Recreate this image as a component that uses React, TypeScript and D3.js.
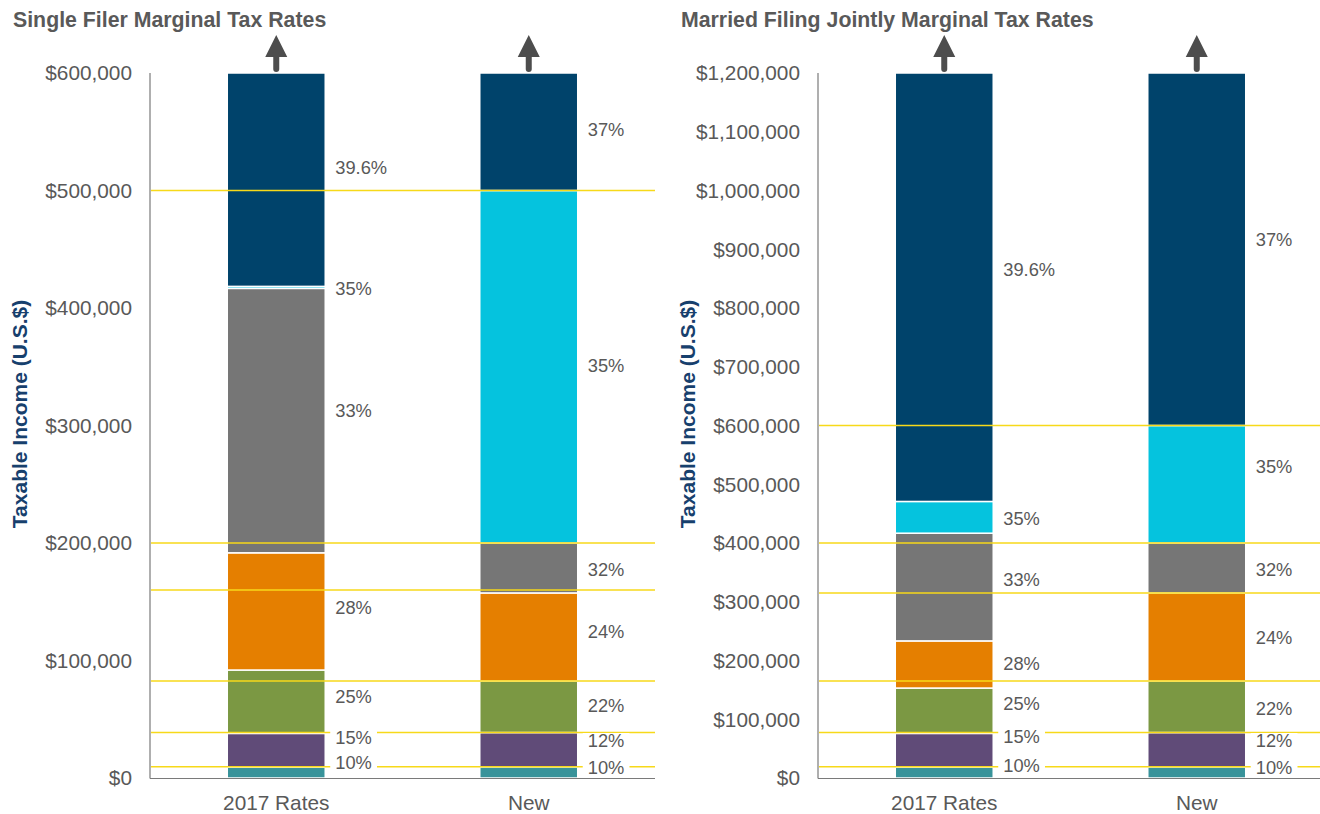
import React from 'react';
import * as d3 from 'd3';

const categories = ['2017 Rates', 'New'];

// Single filer brackets (lower bounds + chart top)
const singleOldBreaks = [0, 9325, 37950, 91900, 191650, 416700, 418400, 600000];
const singleOldRates = ['10%', '15%', '25%', '28%', '33%', '35%', '39.6%'];
const singleOldLabelAt = [12800, 34000, 68900, 144700, 312300, 416200, 519100];

const singleNewBreaks = [0, 9525, 38700, 82500, 157500, 200000, 500000, 600000];
const singleNewRates = ['10%', '12%', '22%', '24%', '32%', '35%', '37%'];
const singleNewLabelAt = [8500, 31500, 61300, 124300, 177000, 350600, 551500];

// Married filing jointly brackets
const marriedOldBreaks = [0, 18650, 75900, 153100, 233350, 416700, 470700, 1200000];
const marriedOldRates = ['10%', '15%', '25%', '28%', '33%', '35%', '39.6%'];
const marriedOldLabelAt = [20400, 69800, 126000, 194000, 337000, 440900, 864700];

const marriedNewBreaks = [0, 19050, 77400, 165000, 315000, 400000, 600000, 1200000];
const marriedNewRates = ['10%', '12%', '22%', '24%', '32%', '35%', '37%'];
const marriedNewLabelAt = [17000, 63000, 117400, 238300, 354000, 529400, 915700];

const singleGuides = [9525, 38700, 82500, 160000, 200000, 500000];
const marriedGuides = [19050, 77400, 165000, 315000, 400000, 600000];

const singleTicks = [0, 100000, 200000, 300000, 400000, 500000, 600000];
const marriedTicks = [0, 100000, 200000, 300000, 400000, 500000, 600000, 700000, 800000, 900000, 1000000, 1100000, 1200000];

const bracketColors = ['#38939a', '#604b78', '#7b9843', '#e57f00', '#767676', '#05c3de', '#00436b'];

const FONT = '"Liberation Sans", Arial, sans-serif';
const TEXT = '#595959';
const NAVY_TITLE = '#17406d';
const GUIDE = '#f7d91a';

type Series = { breaks: number[]; rates: string[]; labelAt: number[] };

function Panel(props: {
  title: string;
  titleX: number;
  axisX: number;
  rightX: number;
  guideEnd: number;
  max: number;
  ticks: number[];
  guides: number[];
  series: Series[];
}) {
  const { title, titleX, axisX, rightX, guideEnd, max, ticks, guides, series } = props;
  const y = d3.scaleLinear().domain([0, max]).range([778, 73]);
  const x = d3.scaleBand<string>().domain(categories).range([axisX, rightX]).paddingInner(0.612).paddingOuter(0.306);
  const bw = x.bandwidth();
  const fmt = (v: number) => '$' + d3.format(',')(v);
  const labelSize = 18.3;

  return (
    <g>
      <text x={titleX} y={27} fontFamily={FONT} fontSize={21.3} fontWeight="bold" fill={TEXT}>{title}</text>
      <text
        transform={`translate(${axisX - 123},${414}) rotate(-90)`}
        textAnchor="middle"
        fontFamily={FONT}
        fontSize={21}
        fontWeight="bold"
        fill={NAVY_TITLE}
      >Taxable Income (U.S.$)</text>
      {ticks.map((t) => (
        <text key={t} x={axisX - 18} y={y(t)} dy="0.35em" textAnchor="end" fontFamily={FONT} fontSize={20.8} fill={TEXT}>{fmt(t)}</text>
      ))}
      {series.map((s, si) => {
        const cat = categories[si];
        const x0 = x(cat) as number;
        return (
          <g key={cat}>
            {s.rates.map((r, i) => (
              <rect
                key={i}
                x={x0}
                y={y(s.breaks[i + 1])}
                width={bw}
                height={y(s.breaks[i]) - y(s.breaks[i + 1])}
                fill={bracketColors[i]}
                stroke="#ffffff"
                strokeWidth={1.5}
              />
            ))}
          </g>
        );
      })}
      {guides.map((g) => (
        <line key={g} x1={axisX + 1} x2={guideEnd} y1={y(g)} y2={y(g)} stroke={GUIDE} strokeWidth={1.5} />
      ))}
      {series.map((s, si) => {
        const cat = categories[si];
        const x0 = (x(cat) as number) + bw;
        return (
          <g key={'l' + cat}>
            {s.rates.map((r, i) => {
              const tx = x0 + 10;
              const ty = y(s.labelAt[i]);
              const w = r.length * labelSize * 0.56;
              return (
                <g key={i}>
                  <rect x={tx - 5} y={ty - 8} width={w + 16} height={16} fill="#ffffff" />
                  <text x={tx} y={ty} dy="0.35em" fontFamily={FONT} fontSize={labelSize} fill={TEXT}>{r}</text>
                </g>
              );
            })}
          </g>
        );
      })}
      {categories.map((c) => {
        const cx = (x(c) as number) + bw / 2;
        return (
          <g key={'a' + c} fill="#4d4d4d">
            <path d={`M${cx},35 L${cx + 11},57 L${cx - 11},57 Z`} />
            <line x1={cx} x2={cx} y1={55} y2={69} stroke="#4d4d4d" strokeWidth={6} strokeLinecap="round" />
            <text x={cx} y={810} textAnchor="middle" fontFamily={FONT} fontSize={20.8} fill={TEXT}>{c}</text>
          </g>
        );
      })}
      <line x1={axisX} x2={axisX} y1={73} y2={778.5} stroke="#7a7a7a" strokeWidth={1.2} />
      <line x1={axisX} x2={guideEnd} y1={778.5} y2={778.5} stroke="#7a7a7a" strokeWidth={1.2} />
    </g>
  );
}

export default function App() {
  return (
    <svg
      width={1320}
      height={814}
      style={{ position: 'absolute', left: 0, top: 0, background: '#ffffff' }}
    >
      <rect x={0} y={0} width={1320} height={814} fill="#ffffff" />
      <Panel
        title="Single Filer Marginal Tax Rates"
        titleX={13}
        axisX={150}
        rightX={655}
        guideEnd={655}
        max={600000}
        ticks={singleTicks}
        guides={singleGuides}
        series={[
          { breaks: singleOldBreaks, rates: singleOldRates, labelAt: singleOldLabelAt },
          { breaks: singleNewBreaks, rates: singleNewRates, labelAt: singleNewLabelAt },
        ]}
      />
      <Panel
        title="Married Filing Jointly Marginal Tax Rates"
        titleX={681}
        axisX={818}
        rightX={1323}
        guideEnd={1320}
        max={1200000}
        ticks={marriedTicks}
        guides={marriedGuides}
        series={[
          { breaks: marriedOldBreaks, rates: marriedOldRates, labelAt: marriedOldLabelAt },
          { breaks: marriedNewBreaks, rates: marriedNewRates, labelAt: marriedNewLabelAt },
        ]}
      />
    </svg>
  );
}
